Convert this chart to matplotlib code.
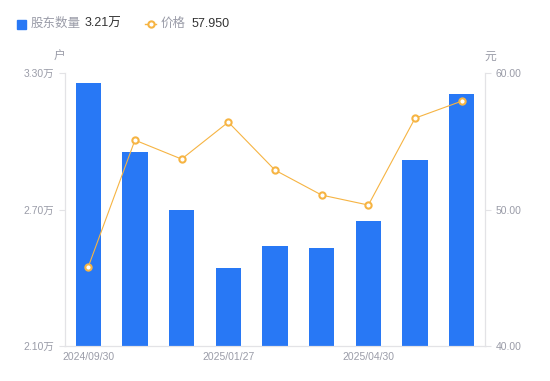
import matplotlib
matplotlib.use("Agg")
import matplotlib.pyplot as plt
from matplotlib.lines import Line2D

plt.rcParams['font.family'] = ['Liberation Sans', 'Noto Sans CJK SC', 'DejaVu Sans']

dates = ['2024/09/30', '2024/11/20', '2024/12/31', '2025/01/27', '2025/02/28',
         '2025/03/31', '2025/04/30', '2025/05/20', '2025/06/30']
holders = [3.256, 2.953, 2.698, 2.443, 2.540, 2.531, 2.649, 2.918, 3.210]  # 万户
price = [45.79, 55.09, 53.70, 56.41, 52.89, 51.06, 50.33, 56.70, 57.95]
shown_ticks = [0, 3, 6]

blue = '#2878F5'
orange = '#F6B443'
gray = '#9A9CA8'
axis_gray = '#E3E3E6'

fig = plt.figure(figsize=(5.5, 3.81), dpi=100)
ax = fig.add_axes([0.118, 0.092, 0.764, 0.716])
ax2 = ax.twinx()

x = list(range(len(dates)))
ax.bar(x, holders, width=0.54, color=blue, zorder=2)
ax.set_xlim(-0.5, len(dates) - 0.5)
ax.set_ylim(2.10, 3.30)
ax.set_yticks([2.10, 2.70, 3.30])
ax.set_yticklabels(['2.10万', '2.70万', '3.30万'])

ax2.plot(x, price, color=orange, lw=0.8, marker='o', ms=4.5,
         mfc='white', mec=orange, mew=1.5, zorder=3)
ax2.set_ylim(40, 60)
ax2.set_yticks([40, 50, 60])
ax2.set_yticklabels(['40.00', '50.00', '60.00'])

ax.set_xticks(shown_ticks)
ax.set_xticklabels([dates[i] for i in shown_ticks])

for a in (ax, ax2):
    for s in a.spines.values():
        s.set_color(axis_gray)
        s.set_linewidth(0.8)
    a.spines['top'].set_visible(False)
    a.tick_params(colors=axis_gray, labelcolor=gray, labelsize=7.5, length=4, width=0.8)
ax.tick_params(axis='x', length=0, pad=4)
ax2.set_zorder(ax.get_zorder() + 1)
ax2.patch.set_visible(False)

fig.text(60 / 550, 1 - 57 / 381, '户', color=gray, fontsize=8.5, ha='center', va='center')
fig.text(490 / 550, 1 - 57 / 381, '元', color=gray, fontsize=8.5, ha='center', va='center')

# legend
fig.patches.append(plt.Rectangle((17 / 550, 1 - 29 / 381), 9 / 550, 9 / 381,
                                 transform=fig.transFigure, color=blue, figure=fig))
fig.text(31 / 550, 1 - 24 / 381, '股东数量', color=gray, fontsize=9, va='center')
fig.text(85 / 550, 1 - 24 / 381, '3.21万', color='#333333', fontsize=9, va='center')
fig.add_artist(Line2D([145 / 550, 156 / 550], [1 - 24 / 381] * 2, transform=fig.transFigure,
                      color=orange, lw=1))
fig.add_artist(Line2D([150.5 / 550], [1 - 24 / 381], transform=fig.transFigure,
                      color=orange, marker='o', ms=4.5, mfc='white', mec=orange, mew=1.5))
fig.text(161 / 550, 1 - 24 / 381, '价格', color=gray, fontsize=9, va='center')
fig.text(192 / 550, 1 - 24 / 381, '57.950', color='#333333', fontsize=9, va='center')

fig.savefig('out.png', dpi=100)
